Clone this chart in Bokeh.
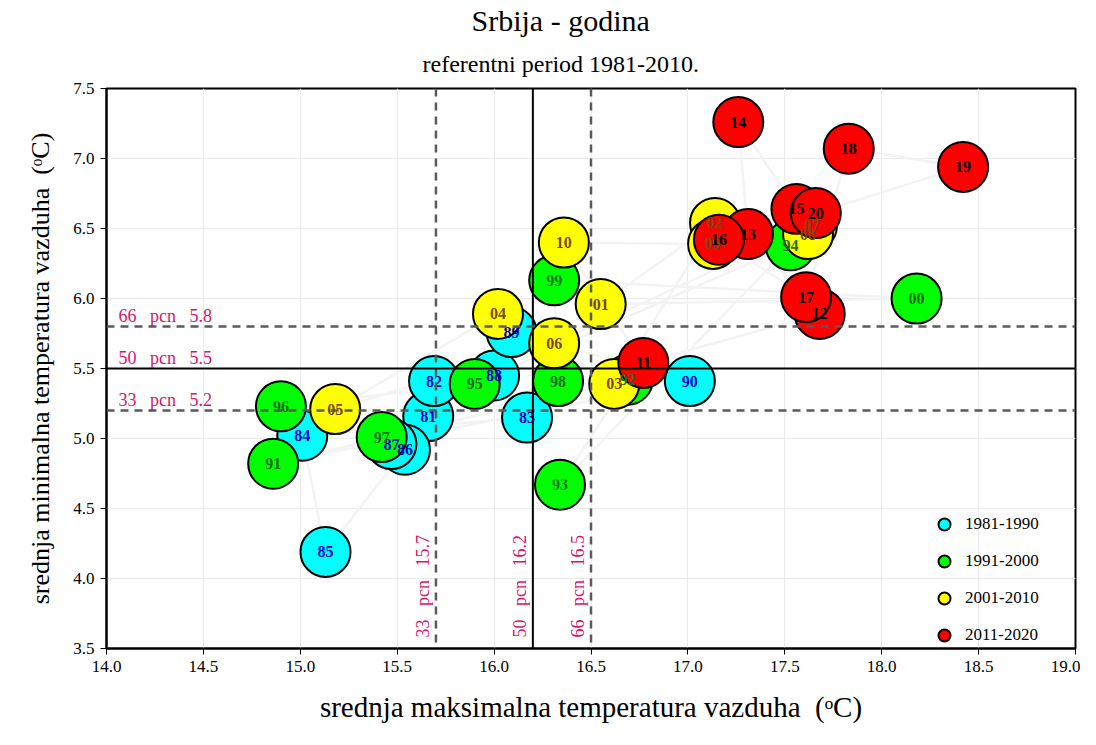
import math
from bokeh.plotting import figure
from bokeh.models import (ColumnDataSource, Span, Label, Legend, LegendItem, Title,
                          SingleIntervalTicker, PrintfTickFormatter, Range1d)
from bokeh.core.properties import value
from bokeh.embed import file_html
from bokeh.resources import INLINE

# ---------------- data ----------------
years = ["81", "82", "83", "84", "85", "86", "87", "88", "89", "90",
         "91", "92", "93", "94", "95", "96", "97", "98", "99", "00",
         "01", "02", "03", "04", "05", "06", "07", "08", "09", "10",
         "11", "12", "13", "14", "15", "16", "17", "18", "19", "20"]
tmax = [15.66, 15.69, 16.17, 15.01, 15.13, 15.54, 15.47, 16.00, 16.09, 17.01,
        14.86, 16.69, 16.34, 17.53, 15.90, 14.90, 15.42, 16.33, 16.31, 18.18,
        16.55, 17.14, 16.62, 16.02, 15.18, 16.31, 17.64, 17.62, 17.13, 16.36,
        16.77, 17.68, 17.31, 17.26, 17.56, 17.16, 17.61, 17.83, 18.42, 17.66]
tmin = [5.16, 5.41, 5.15, 5.02, 4.19, 4.92, 4.96, 5.45, 5.76, 5.41,
        4.82, 5.42, 4.67, 6.38, 5.39, 5.23, 5.01, 5.41, 6.13, 6.00,
        5.96, 6.54, 5.39, 5.89, 5.21, 5.68, 6.52, 6.46, 6.39, 6.40,
        5.54, 5.89, 6.46, 7.26, 6.64, 6.42, 6.01, 7.07, 6.94, 6.61]
decades = ["1981-1990", "1991-2000", "2001-2010", "2011-2020"]
fill_colors = ["#00ffff", "#00ff00", "#ffff00", "#ff0000"]
label_colors = ["#0000cc", "#1e6e1e", "#7a4714", "#000000"]

pct_names = ["33", "50", "66"]
pct_tmax = [15.7, 16.2, 16.5]
pct_tmin = [5.2, 5.5, 5.8]

x_ticks_interval = 0.5
y_ticks_interval = 0.5

# ---------------- figure ----------------
SERIF = "Liberation Serif"
PCN_COLOR = "#d4156e"
SP = "\u00a0\u00a0 "

p = figure(width=1080, height=733, output_backend="svg", toolbar_location=None,
           x_range=Range1d(14.0, 19.0), y_range=Range1d(3.5, 7.5),
           min_border_left=106, min_border_right=5, min_border_top=88,
           min_border_bottom=85)
p.background_fill_color = "white"
p.border_fill_color = "white"
p.outline_line_color = "black"
p.outline_line_width = 2

# titles
p.add_layout(Title(text="referentni period 1981-2010.", align="left", offset=316,
                   text_font=SERIF, text_font_size="24px",
                   text_font_style="normal", text_color="black", standoff=24),
             "above")
p.add_layout(Title(text="Srbija - godina", align="left", offset=365,
                   text_font=SERIF, text_font_size="30px",
                   text_font_style="normal", text_color="black", standoff=0),
             "above")

# grid
p.xgrid.grid_line_color = "#ebebeb"
p.ygrid.grid_line_color = "#ebebeb"
p.xgrid.grid_line_width = 1
p.ygrid.grid_line_width = 1

# axes
p.xaxis.ticker = SingleIntervalTicker(interval=x_ticks_interval)
p.yaxis.ticker = SingleIntervalTicker(interval=y_ticks_interval)
p.xaxis.formatter = PrintfTickFormatter(format="%.1f")
p.yaxis.formatter = PrintfTickFormatter(format="%.1f")
for ax in (p.xaxis, p.yaxis):
    ax.major_label_text_font = SERIF
    ax.major_label_text_font_size = "17px"
    ax.major_label_text_color = "black"
    ax.axis_line_color = "black"
    ax.axis_line_width = 2
    ax.major_tick_line_color = "black"
    ax.major_tick_out = 6
    ax.major_tick_in = 0
    ax.minor_tick_line_color = None
    ax.axis_label_text_font = SERIF
    ax.axis_label_text_font_style = "normal"
    ax.axis_label_text_color = "black"
p.xaxis.axis_label_text_font_size = "29px"
p.yaxis.axis_label_text_font_size = "26px"
p.xaxis.axis_label = "srednja maksimalna temperatura vazduha\u00a0 (\u1d52C)"
p.yaxis.axis_label = "srednja minimalna temperatura vazduha\u00a0 (\u1d52C)"
p.xaxis.axis_label_standoff = 16
p.yaxis.axis_label_standoff = 15
p.xaxis.major_label_standoff = 6
p.yaxis.major_label_standoff = 6

# faint chronological path
p.line(tmax, tmin, line_color="#f3f3f3", line_width=2.5)

# circles, grouped by decade (chronological order preserved)
legend_items = []
for i, dec in enumerate(decades):
    sl = slice(10 * i, 10 * i + 10)
    src = ColumnDataSource(dict(x=tmax[sl], y=tmin[sl]))
    r = p.scatter("x", "y", source=src, size=50, fill_color=fill_colors[i],
                  line_color="black", line_width=2)
    legend_items.append(LegendItem(label=dec, renderers=[r]))

# year labels on top of all circles
lab_colors = []
for i in range(len(decades)):
    lab_colors += [label_colors[i]] * 10
tsrc = ColumnDataSource(dict(x=tmax, y=tmin, t=years, c=lab_colors))
p.text("x", "y", text="t", source=tsrc, text_color="c",
       text_font=value(SERIF), text_font_size="16px", text_font_style="bold",
       text_align="center", text_baseline="middle")

# percentile lines
for name, vx, vy in zip(pct_names, pct_tmax, pct_tmin):
    if name == "50":
        kw = dict(line_color="black", line_width=2)
    else:
        kw = dict(line_color="#5a5a5a", line_width=2.5, line_dash="8 6")
    p.add_layout(Span(location=vx, dimension="height", **kw))
    p.add_layout(Span(location=vy, dimension="width", **kw))
    p.add_layout(Label(x=14.062, y=vy, y_offset=1, text=f"{name}{SP}pcn{SP}{vy}",
                       text_font=SERIF, text_font_size="18px",
                       text_color=PCN_COLOR, text_baseline="bottom",
                       text_align="left"))
    p.add_layout(Label(x=vx, y=3.579, x_offset=-3, text=f"{name}{SP}pcn{SP}{vx}",
                       angle=math.pi / 2, text_font=SERIF,
                       text_font_size="18px", text_color=PCN_COLOR,
                       text_baseline="bottom", text_align="left"))

# legend
legend = Legend(items=legend_items, location=(823, -2),
                glyph_width=30, glyph_height=30, spacing=7, padding=10,
                label_text_font=SERIF, label_text_font_size="17px",
                label_text_color="black", label_standoff=6,
                background_fill_alpha=0, border_line_color=None)
p.add_layout(legend, "center")

open("out.html", "w").write(file_html(p, INLINE))
